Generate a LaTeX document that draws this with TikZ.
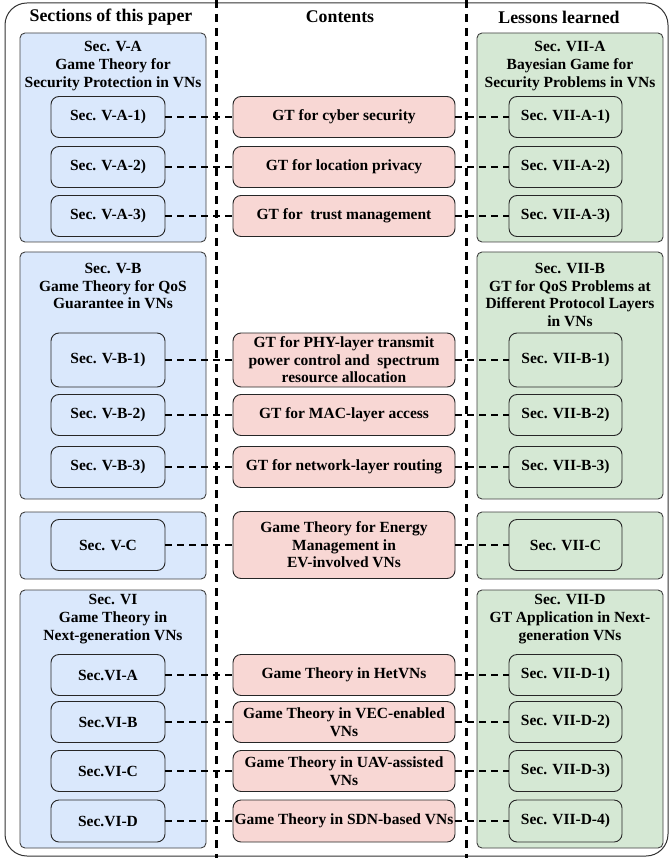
\documentclass[tikz,border=0pt]{standalone}
\usepackage{fontspec}
\setmainfont{Liberation Serif}
\definecolor{secFill}{HTML}{DAE8FC}
\definecolor{gtFill}{HTML}{F8D7D4}
\definecolor{lesFill}{HTML}{D5E8D4}
\begin{document}
\begin{tikzpicture}[x=1pt,y=-1pt,font=\fontsize{15.5}{17.6}\selectfont\bfseries]
\tikzstyle{secBox}=[rectangle,rounded corners=5pt,draw=black!75,line width=0.9pt,fill=secFill,minimum width=186pt,inner sep=0pt]
\tikzstyle{lesBox}=[rectangle,rounded corners=5pt,draw=black!75,line width=0.9pt,fill=lesFill,minimum width=186pt,inner sep=0pt]
\tikzstyle{secSub}=[rectangle,rounded corners=8pt,draw=black!85,line width=0.9pt,fill=secFill,minimum width=114pt,minimum height=41pt,inner sep=0pt]
\tikzstyle{lesSub}=[rectangle,rounded corners=8pt,draw=black!85,line width=0.9pt,fill=lesFill,minimum width=113pt,minimum height=41pt,inner sep=0pt]
\tikzstyle{gt}=[rectangle,rounded corners=8pt,draw=black!85,line width=0.9pt,fill=gtFill,minimum width=222pt,minimum height=41pt,inner sep=0pt,align=center]
\tikzstyle{title}=[align=center,inner sep=0pt]
\tikzstyle{head}=[font=\fontsize{17.8}{20}\selectfont\bfseries,inner sep=0pt]
\tikzstyle{link}=[line width=2.2pt,dash pattern=on 7pt off 5pt]
\tikzstyle{colSep}=[line width=2.2pt,dash pattern=on 8pt off 6pt]

\useasboundingbox (0,0) rectangle (669,858);
\draw[black!80,line width=1pt,rounded corners=22pt] (5,3) rectangle (668,856);

%get labels.
\node[head] (headSec) at (111,17) {Sections of this paper};
\node[head] (headGt)  at (340,17) {Contents};
\node[head] (headLes) at (559,17) {Lessons learned};

% sections of this paper
\node[secBox,minimum height=209pt] (secVA) at (113,137.5) {};
\node[secBox,minimum height=247pt] (secVB) at (113,375.5) {};
\node[secBox,minimum height=67pt]  (secVC) at (113,545.5) {};
\node[secBox,minimum height=258pt] (secVI) at (113,719) {};

\node[title] (titleVA) at (113,66) {Sec. V-A\\Game Theory for\\Security Protection in VNs};
\node[title] (titleVB) at (113,286) {Sec. V-B\\Game Theory for QoS\\Guarantee in VNs};
\node[title] (titleVI) at (113,619) {Sec. VI\\Game Theory in\\Next-generation VNs};

\node[secSub] (secVA1) at (108,117) {Sec. V-A-1)};
\node[secSub] (secVA2) at (108,167) {Sec. V-A-2)};
\node[secSub] (secVA3) at (108,216) {Sec. V-A-3)};
\node[secSub,minimum height=54pt] (secVB1) at (108,360) {Sec. V-B-1)};
\node[secSub] (secVB2) at (108,415) {Sec. V-B-2)};
\node[secSub] (secVB3) at (108,467) {Sec. V-B-3)};
\node[secSub,minimum height=51pt] (secVC1) at (108,545) {Sec. V-C};
\node[secSub] (secVIA) at (108,675) {Sec.VI-A};
\node[secSub] (secVIB) at (108,722) {Sec.VI-B};
\node[secSub] (secVIC) at (108,771) {Sec.VI-C};
\node[secSub,minimum height=42pt] (secVID) at (108,821) {Sec.VI-D};

% contents
\node[gt] (gtCyber)   at (344,117) {GT for cyber security};
\node[gt] (gtPrivacy) at (344,167) {GT for location privacy};
\node[gt] (gtTrust)   at (344,216) {GT for\ \ trust management};
\node[gt,minimum height=54pt] (gtPhy) at (344,360) {GT for PHY-layer transmit\\power control and\ \ spectrum\\resource allocation};
\node[gt] (gtMac)     at (344,415) {GT for MAC-layer access};
\node[gt] (gtRoute)   at (344,467) {GT for network-layer routing};
\node[gt,minimum height=67pt] (gtEnergy) at (344,545) {Game Theory for Energy\\Management in\\EV-involved VNs};
\node[gt] (gtHet)     at (344,675) {Game Theory in HetVNs};
\node[gt] (gtVec)     at (344,722) {Game Theory in VEC-enabled\\VNs};
\node[gt] (gtUav)     at (344,771) {Game Theory in UAV-assisted\\VNs};
\node[gt,minimum height=42pt] (gtSdn) at (344,821) {Game Theory in SDN-based VNs};

% lessons learned
\node[lesBox,minimum height=209pt] (lesVIIA) at (570,137.5) {};
\node[lesBox,minimum height=247pt] (lesVIIB) at (570,375.5) {};
\node[lesBox,minimum height=67pt]  (lesVIIC) at (570,545.5) {};
\node[lesBox,minimum height=258pt] (lesVIID) at (570,719) {};

\node[title] (titleVIIA) at (570,66) {Sec. VII-A\\Bayesian Game for\\Security Problems in VNs};
\node[title] (titleVIIB) at (570,295) {Sec. VII-B\\GT for QoS Problems at\\Different Protocol Layers\\in VNs};
\node[title] (titleVIID) at (570,619) {Sec. VII-D\\GT Application in Next-\\generation VNs};

\node[lesSub] (lesVIIA1) at (565.5,117) {Sec. VII-A-1)};
\node[lesSub] (lesVIIA2) at (565.5,167) {Sec. VII-A-2)};
\node[lesSub] (lesVIIA3) at (565.5,216) {Sec. VII-A-3)};
\node[lesSub,minimum height=54pt] (lesVIIB1) at (565.5,360) {Sec. VII-B-1)};
\node[lesSub] (lesVIIB2) at (565.5,415) {Sec. VII-B-2)};
\node[lesSub] (lesVIIB3) at (565.5,467) {Sec. VII-B-3)};
\node[lesSub,minimum height=51pt] (lesVIIC1) at (565.5,545) {Sec. VII-C};
\node[lesSub] (lesVIID1) at (565.5,675) {Sec. VII-D-1)};
\node[lesSub] (lesVIID2) at (565.5,722) {Sec. VII-D-2)};
\node[lesSub] (lesVIID3) at (565.5,771) {Sec. VII-D-3)};
\node[lesSub,minimum height=42pt] (lesVIID4) at (565.5,821) {Sec. VII-D-4)};

% column separators
\coordinate (sepLtop) at (216.5,0);
\coordinate (sepLbot) at (216.5,858);
\coordinate (sepRtop) at (466.5,0);
\coordinate (sepRbot) at (466.5,858);
\draw[colSep] (sepLtop) -- (sepLbot);
\draw[colSep] (sepRtop) -- (sepRbot);

\draw[link] (secVA1) -- (gtCyber);
\draw[link] (secVA2) -- (gtPrivacy);
\draw[link] (secVA3) -- (gtTrust);
\draw[link] (secVB1) -- (gtPhy);
\draw[link] (secVB2) -- (gtMac);
\draw[link] (secVB3) -- (gtRoute);
\draw[link] (secVC1) -- (gtEnergy);
\draw[link] (secVIA) -- (gtHet);
\draw[link] (secVIB) -- (gtVec);
\draw[link] (secVIC) -- (gtUav);
\draw[link] (secVID) -- (gtSdn);

\draw[link] (gtCyber) -- (lesVIIA1);
\draw[link] (gtPrivacy) -- (lesVIIA2);
\draw[link] (gtTrust) -- (lesVIIA3);
\draw[link] (gtPhy) -- (lesVIIB1);
\draw[link] (gtMac) -- (lesVIIB2);
\draw[link] (gtRoute) -- (lesVIIB3);
\draw[link] (gtEnergy) -- (lesVIIC1);
\draw[link] (gtHet) -- (lesVIID1);
\draw[link] (gtVec) -- (lesVIID2);
\draw[link] (gtUav) -- (lesVIID3);
\draw[link] (gtSdn) -- (lesVIID4);

\end{tikzpicture}
\end{document}
